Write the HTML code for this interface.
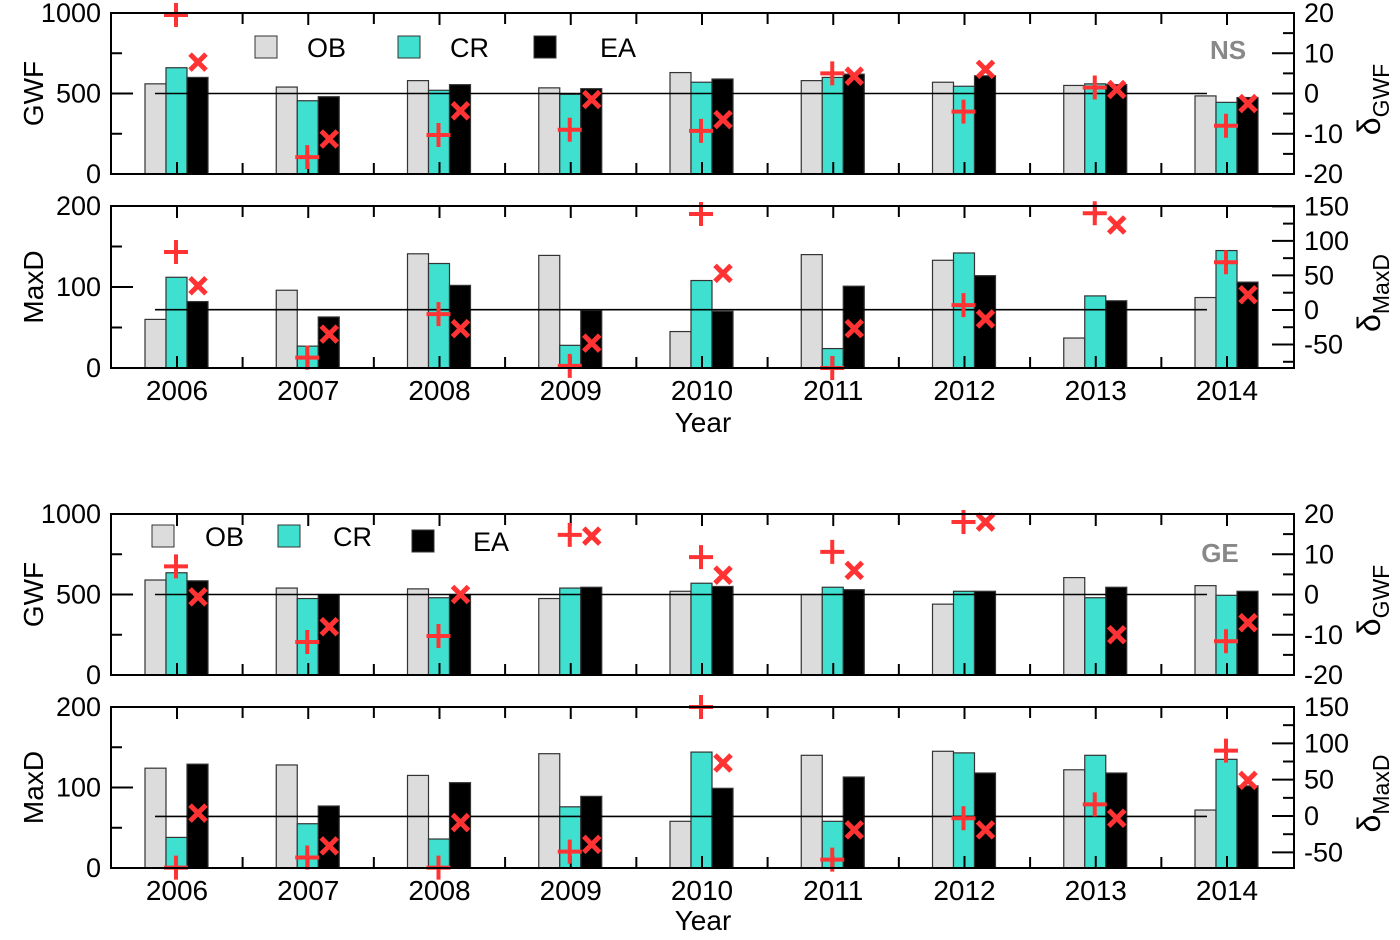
<!DOCTYPE html>
<html><head><meta charset="utf-8"><style>
html,body{margin:0;padding:0;background:#fff;}
svg text{font-family:"Liberation Sans",sans-serif;}
</style></head><body>
<svg id="chart" width="1400" height="935" xmlns="http://www.w3.org/2000/svg"></svg>
<script>
const years = [2006,2007,2008,2009,2010,2011,2012,2013,2014];
// NS GWF
const nsGwfOB = [560,540,580,535,630,580,570,550,485];
const nsGwfCR = [660,455,520,495,570,600,545,560,445];
const nsGwfEA = [600,480,555,530,590,620,610,555,475];
const nsGwfPlus = [19.5,-15.8,-10.3,-9,-9.3,5,-4.5,1.5,-8];
const nsGwfCross = [7.8,-11.3,-4.3,-1.5,-6.5,4.3,6,1,-2.5];
// NS MaxD
const nsMaxOB = [60,96,141,139,45,140,133,37,87];
const nsMaxCR = [112,27,129,28,108,24,142,89,145];
const nsMaxEA = [82,63,102,71,70,101,114,83,106];
const nsMaxPlus = [84,-69,-6,-81,139,-84,7,140,69];
const nsMaxCross = [35,-35,-27,-48,53,-27,-13,123,22];
// GE GWF
const geGwfOB = [590,540,535,475,520,500,440,605,555];
const geGwfCR = [635,475,480,540,570,545,520,480,495];
const geGwfEA = [585,500,500,545,550,530,520,545,520];
const geGwfPlus = [7,-11.8,-10.3,14.8,9.3,10.6,18,null,-11.6];
const geGwfCross = [-0.6,-8,0,14.5,4.8,6,18,-10,-7];
// GE MaxD
const geMaxOB = [124,128,115,142,58,140,145,122,72];
const geMaxCR = [38,55,36,76,144,58,143,140,135];
const geMaxEA = [129,77,106,89,99,113,118,118,102];
const geMaxPlus = [-71,-57,-71,-49,150,-60,-3,16,90];
const geMaxCross = [4,-41,-9,-39,73,-19,-19,-3,49];

const leftTicksGwf = [0,500,1000];
const rightTicksGwf = [-20,-10,0,10,20];
const leftTicksMax = [0,100,200];
const rightTicksMax = [-50,0,50,100,150];

const NS = "http://www.w3.org/2000/svg";
const svg = document.getElementById('chart');
function el(tag, attrs, parent){
  const e = document.createElementNS(NS, tag);
  for (const k in attrs) e.setAttribute(k, attrs[k]);
  (parent||svg).appendChild(e);
  return e;
}
const X0 = 111, X1 = 1294;
function xYear(i){ return 177 + i*131.25; }

function panel(name, top, bot, lmin, lmax, rmin, rmax, lTicks, lMinorStep, rTicks, rMinorStep, lineVal, OB, CR, EA, PL, CX, yTitle, rSub, showX){
  const g = el('g', {});
  
  
  const yl = v => bot - (v-lmin)/(lmax-lmin)*(bot-top);
  const yr = v => bot - (v-rmin)/(rmax-rmin)*(bot-top);
  const sets = [[OB,'#dcdcdc',-32,'ob'],[CR,'#40e0d0',-11,'cr'],[EA,'#000',10,'ea']];
  sets.forEach(([arr,col,off,nm])=>{
    arr.forEach((v,i)=>{
      const r = el('rect',{x:xYear(i)+off,y:yl(v),width:21,height:bot-yl(v),fill:col,stroke:'#333','stroke-width':1.2},g);
      
      
    });
  });
  years.forEach((y,i)=>{
    const x = xYear(i);
    el('line',{x1:x,y1:bot,x2:x,y2:bot-12,stroke:'#000','stroke-width':2},g);
    el('line',{x1:x,y1:top,x2:x,y2:top+12,stroke:'#000','stroke-width':2},g);
    if(i<years.length-1){
      const xm = x+65.6;
      el('line',{x1:xm,y1:bot,x2:xm,y2:bot-11,stroke:'#000','stroke-width':2},g);
      el('line',{x1:xm,y1:top,x2:xm,y2:top+11,stroke:'#000','stroke-width':2},g);
    }
    if(showX){
      const t = el('text',{x:x,y:bot+32,'font-size':28,'text-anchor':'middle'},g);
      t.textContent = y;
      
      
    }
  });
  for(let v=lmin; v<=lmax+1e-9; v+=lMinorStep){
    const major = lTicks.some(t=>Math.abs(t-v)<1e-6);
    el('line',{x1:X0,y1:yl(v),x2:X0+(major?22:11),y2:yl(v),stroke:'#000','stroke-width':2},g);
  }
  lTicks.forEach(v=>{
    const t = el('text',{x:X0-10,y:yl(v)+9,'font-size':27,'text-anchor':'end'},g);
    t.textContent = v;
    
    
  });
  for(let v=Math.ceil(rmin/rMinorStep)*rMinorStep; v<=rmax+1e-9; v+=rMinorStep){
    const major = rTicks.some(t=>Math.abs(t-v)<1e-6);
    el('line',{x1:X1,y1:yr(v),x2:X1-(major?22:11),y2:yr(v),stroke:'#000','stroke-width':2},g);
  }
  rTicks.forEach(v=>{
    const t = el('text',{x:X1+10,y:yr(v)+9,'font-size':27,'text-anchor':'start'},g);
    t.textContent = v;
    
    
  });
  el('line',{x1:155,y1:yl(lineVal),x2:1207,y2:yl(lineVal),stroke:'#000','stroke-width':1.6},g);
  PL.forEach((v,i)=>{
    if(v===null) return;
    const x = xYear(i)-1, y = yr(v);
    const p = el('path',{d:`M${x-12},${y}H${x+12}M${x},${y-12}V${y+12}`,stroke:'#ff3333','stroke-width':4,fill:'none'},g);
    
    
  });
  CX.forEach((v,i)=>{
    if(v===null) return;
    const x = xYear(i)+21, y = yr(v);
    const p = el('path',{d:`M${x-8},${y-8}L${x+8},${y+8}M${x-8},${y+8}L${x+8},${y-8}`,stroke:'#ff3333','stroke-width':5,fill:'none'},g);
    
    
  });
  el('rect',{x:X0,y:top,width:X1-X0,height:bot-top,fill:'none',stroke:'#000','stroke-width':2},g);
  const cy = (top+bot)/2;
  const lt = el('text',{x:0,y:0,'font-size':28,'text-anchor':'middle',transform:`translate(43,${cy}) rotate(-90)`},g);
  lt.textContent = yTitle;
  
  
  const rt = el('text',{x:0,y:0,'font-size':32,'text-anchor':'middle',transform:`translate(1380,${cy+6}) rotate(-90)`},g);
  
  
  const t1 = el('tspan',{},rt); t1.textContent='δ';
  const t2 = el('tspan',{dy:9,'font-size':23},rt); t2.textContent=rSub;
}

panel('ns-gwf-panel',13,174,0,1000,-20,20,leftTicksGwf,250,rightTicksGwf,5,500,nsGwfOB,nsGwfCR,nsGwfEA,nsGwfPlus,nsGwfCross,'GWF','GWF',false);
panel('ns-maxd-panel',206,368,0,200,-84,150.5,leftTicksMax,50,rightTicksMax,25,72,nsMaxOB,nsMaxCR,nsMaxEA,nsMaxPlus,nsMaxCross,'MaxD','MaxD',true);
panel('ge-gwf-panel',514,675,0,1000,-20,20,leftTicksGwf,250,rightTicksGwf,5,500,geGwfOB,geGwfCR,geGwfEA,geGwfPlus,geGwfCross,'GWF','GWF',false);
panel('ge-maxd-panel',707,868,0,200,-71.5,150,leftTicksMax,50,rightTicksMax,25,64,geMaxOB,geMaxCR,geMaxEA,geMaxPlus,geMaxCross,'MaxD','MaxD',true);

function legend(name, items){
  const g = el('g',{});
  
  
  items.forEach(([x,y,col,label,tx])=>{
    const r = el('rect',{x:x,y:y,width:22,height:22,fill:col,stroke:'#333','stroke-width':1},g);
    
    
    const t = el('text',{x:tx,y:y+21,'font-size':27},g);
    t.textContent = label;
    
    
  });
}
legend('legend-ns',[[255,36,'#dcdcdc','OB',307],[398,36,'#40e0d0','CR',450],[534,36,'#000','EA',600]]);
legend('legend-ge',[[152,525,'#dcdcdc','OB',205],[278,525,'#40e0d0','CR',333],[412,530,'#000','EA',473]]);

[['NS',1228,59,'region-label-ns'],['GE',1220,562,'region-label-ge']].forEach(([s,x,y,n])=>{
  const t = el('text',{x:x,y:y,'font-size':26,'font-weight':'bold',fill:'#888','text-anchor':'middle'});
  t.textContent = s;
  
  
});
[[432,'x-axis-title-ns'],[930,'x-axis-title-ge']].forEach(([y,n])=>{
  const t = el('text',{x:703,y:y,'font-size':28,'text-anchor':'middle'});
  t.textContent = 'Year';
  
  
});
</script>
</body></html>
